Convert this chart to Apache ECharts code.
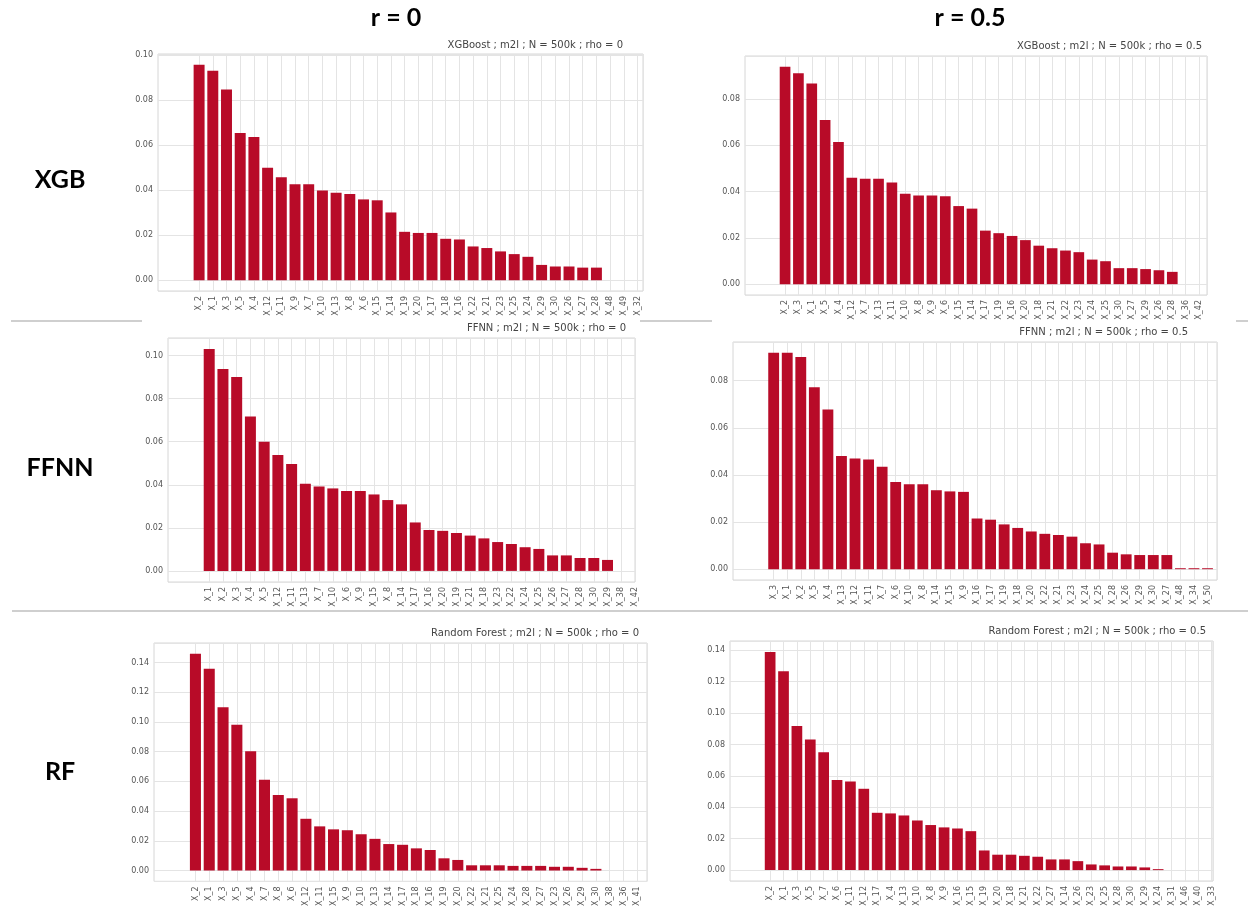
<!DOCTYPE html>
<html>
<head>
<meta charset="utf-8">
<script src="https://cdn.jsdelivr.net/npm/echarts@6/dist/echarts.min.js"></script>
<style>
  html, body { margin: 0; background: #fff; }
  #chart { width: 1248px; height: 909px; }
</style>
</head>
<body>
<div id="chart"></div>
<script>
// feature importances, sorted as in each panel
const xgbR0Cats = ["X_2","X_1","X_3","X_5","X_4","X_12","X_11","X_9","X_7","X_10","X_13","X_8","X_6","X_15","X_14","X_19","X_20","X_17","X_18","X_16","X_22","X_21","X_23","X_25","X_24","X_29","X_30","X_26","X_27","X_28","X_48","X_49","X_32"];
const xgbR0Vals = [0.0957,0.093,0.0847,0.0654,0.0636,0.050,0.0457,0.0426,0.0426,0.0398,0.0388,0.0383,0.0359,0.0355,0.0301,0.0215,0.021,0.021,0.0184,0.0181,0.015,0.0143,0.0128,0.0116,0.0104,0.0068,0.0061,0.0061,0.0056,0.0056,0,0,0];

const xgbR5Cats = ["X_2","X_3","X_1","X_5","X_4","X_12","X_7","X_13","X_11","X_10","X_8","X_9","X_6","X_15","X_14","X_17","X_19","X_16","X_20","X_18","X_21","X_22","X_23","X_24","X_25","X_30","X_27","X_29","X_26","X_28","X_36","X_42"];
const xgbR5Vals = [0.0938,0.091,0.0866,0.0709,0.0614,0.0459,0.0455,0.0455,0.0439,0.039,0.0383,0.0383,0.0379,0.0337,0.0326,0.0231,0.022,0.0208,0.019,0.0166,0.0155,0.0145,0.0138,0.0106,0.0099,0.0069,0.0069,0.0065,0.006,0.0053,0,0];

const ffnnR0Cats = ["X_1","X_2","X_3","X_4","X_5","X_12","X_11","X_13","X_7","X_10","X_6","X_9","X_15","X_8","X_14","X_17","X_16","X_20","X_19","X_21","X_18","X_23","X_22","X_24","X_25","X_26","X_27","X_28","X_30","X_29","X_38","X_42"];
const ffnnR0Vals = [0.103,0.0937,0.090,0.0717,0.060,0.0538,0.0496,0.0405,0.0392,0.0383,0.0371,0.0371,0.0355,0.0329,0.0309,0.0225,0.019,0.0186,0.0176,0.0164,0.0151,0.0134,0.0125,0.011,0.0102,0.0072,0.0072,0.006,0.006,0.0051,0,0];

const ffnnR5Cats = ["X_3","X_1","X_2","X_5","X_4","X_13","X_12","X_11","X_7","X_6","X_10","X_8","X_14","X_15","X_9","X_16","X_17","X_19","X_18","X_20","X_22","X_21","X_23","X_24","X_25","X_28","X_26","X_29","X_30","X_27","X_48","X_34","X_50"];
const ffnnR5Vals = [0.0918,0.0918,0.090,0.0772,0.0677,0.048,0.047,0.0465,0.0435,0.037,0.036,0.036,0.0335,0.033,0.0328,0.0215,0.021,0.019,0.0175,0.016,0.015,0.0145,0.0138,0.011,0.0105,0.007,0.0063,0.006,0.006,0.006,0.0004,0.0004,0.0004];

const rfR0Cats = ["X_2","X_1","X_3","X_5","X_4","X_7","X_8","X_6","X_12","X_11","X_15","X_9","X_10","X_13","X_14","X_17","X_18","X_16","X_19","X_20","X_22","X_21","X_25","X_24","X_28","X_27","X_23","X_26","X_29","X_30","X_38","X_36","X_41"];
const rfR0Vals = [0.1458,0.1358,0.1099,0.0981,0.0803,0.061,0.0508,0.0486,0.0348,0.0297,0.0277,0.0271,0.0244,0.0213,0.0178,0.0173,0.0149,0.0138,0.0082,0.0071,0.0035,0.0035,0.0035,0.0031,0.0031,0.0031,0.0025,0.0025,0.0018,0.0011,0,0,0];

const rfR5Cats = ["X_2","X_1","X_3","X_5","X_7","X_6","X_11","X_12","X_17","X_4","X_13","X_10","X_8","X_9","X_16","X_15","X_19","X_20","X_18","X_21","X_22","X_27","X_14","X_26","X_23","X_25","X_28","X_30","X_29","X_24","X_31","X_46","X_40","X_33"];
const rfR5Vals = [0.139,0.1266,0.0918,0.0832,0.075,0.0574,0.0565,0.0518,0.0365,0.0361,0.0348,0.0316,0.0287,0.0272,0.0265,0.0248,0.0125,0.0098,0.0098,0.0091,0.0085,0.0068,0.0068,0.0057,0.0036,0.003,0.0023,0.0023,0.0017,0.0006,0,0,0,0];

const panels = [
  { cats: xgbR0Cats,  vals: xgbR0Vals,  title: "XGBoost ; m2l ; N = 500k ; rho = 0",        titleAt: [623, 45],  box: [158, 54, 485, 237],  xMax: 32.4, split: 5 },
  { cats: xgbR5Cats,  vals: xgbR5Vals,  title: "XGBoost ; m2l ; N = 500k ; rho = 0.5",      titleAt: [1202, 46], box: [745, 56, 462, 239],  xMax: 31.6, split: 5 },
  { cats: ffnnR0Cats, vals: ffnnR0Vals, title: "FFNN ; m2l ; N = 500k ; rho = 0",           titleAt: [626, 328], box: [168, 338, 467, 244], xMax: 31,   split: 5 },
  { cats: ffnnR5Cats, vals: ffnnR5Vals, title: "FFNN ; m2l ; N = 500k ; rho = 0.5",         titleAt: [1188, 332], box: [733, 342, 484, 238], xMax: 32.7, split: 5 },
  { cats: rfR0Cats,   vals: rfR0Vals,   title: "Random Forest ; m2l ; N = 500k ; rho = 0",  titleAt: [639, 633], box: [154, 643, 493, 240], xMax: 32.7, split: 8 },
  { cats: rfR5Cats,   vals: rfR5Vals,   title: "Random Forest ; m2l ; N = 500k ; rho = 0.5", titleAt: [1206, 631], box: [730, 641, 483, 240], xMax: 33.1, split: 8 }
];

const barColor = "#b80b28";
const gridLine = "#e4e4e4";
const tickFont = "DejaVu Sans";
// first three x split lines sit left of the first bar and are not drawn
const xLineColors = ["transparent", "transparent", "transparent"].concat(new Array(60).fill(gridLine));

const chart = echarts.init(document.getElementById("chart"));
const option = { animation: false, grid: [], xAxis: [], yAxis: [], series: [], graphic: [] };

panels.forEach((p, i) => {
  const top = Math.max(...p.vals);
  option.grid.push({
    left: p.box[0], top: p.box[1], width: p.box[2], height: p.box[3],
    show: true, borderColor: "#d6d6d6", borderWidth: 1, backgroundColor: "#fff"
  });
  option.xAxis.push({
    gridIndex: i, type: "value", min: -3, max: p.xMax, interval: 1,
    axisLine: { show: false }, axisTick: { show: false },
    axisLabel: {
      rotate: 90, fontSize: 8, color: "#555", fontFamily: tickFont, margin: 5,
      showMinLabel: false, showMaxLabel: Number.isInteger(p.xMax),
      formatter: (v) => {
        const k = Math.round(v);
        return Math.abs(v - k) < 1e-6 && k >= 0 && k < p.cats.length ? p.cats[k] : "";
      }
    },
    splitLine: { show: true, lineStyle: { color: xLineColors, width: 1 } }
  });
  option.yAxis.push({
    gridIndex: i, type: "value", min: -0.05 * top, max: 1.05 * top, splitNumber: p.split,
    axisLine: { show: false }, axisTick: { show: false },
    axisLabel: {
      fontSize: 8, color: "#555", fontFamily: tickFont, margin: 5,
      showMinLabel: false, showMaxLabel: false,
      formatter: (v) => v.toFixed(2)
    },
    splitLine: { show: true, lineStyle: { color: gridLine, width: 1 } }
  });
  option.series.push({
    type: "bar", xAxisIndex: i, yAxisIndex: i, silent: true,
    data: p.vals.map((v, k) => [k, v]),
    barWidth: "80%",
    itemStyle: { color: barColor }
  });
  option.graphic.push({
    type: "text", x: p.titleAt[0], y: p.titleAt[1], silent: true,
    style: { text: p.title, align: "right", verticalAlign: "middle", font: '10px "DejaVu Sans"', fill: "#444" }
  });
});

// column and row headings
const headFont = 'bold 25px Lato';
[["r = 0", 396, 18], ["r = 0.5", 970, 18]].forEach(([t, x, y]) => {
  option.graphic.push({ type: "text", x, y, style: { text: t, align: "center", verticalAlign: "middle", font: headFont, fill: "#000" } });
});
[["XGB", 60, 180], ["FFNN", 60, 468], ["RF", 60, 772]].forEach(([t, x, y]) => {
  option.graphic.push({ type: "text", x, y, style: { text: t, align: "center", verticalAlign: "middle", font: headFont, fill: "#000" } });
});

// separator rules between the rows
const rule = { stroke: "#cfcfcf", lineWidth: 2 };
[[11, 142, 321], [640, 712, 321], [1236, 1248, 321], [12, 1248, 611]].forEach(([x1, x2, y]) => {
  option.graphic.push({ type: "line", z: -1, shape: { x1, y1: y, x2, y2: y }, style: rule });
});

chart.setOption(option);
</script>
</body>
</html>
